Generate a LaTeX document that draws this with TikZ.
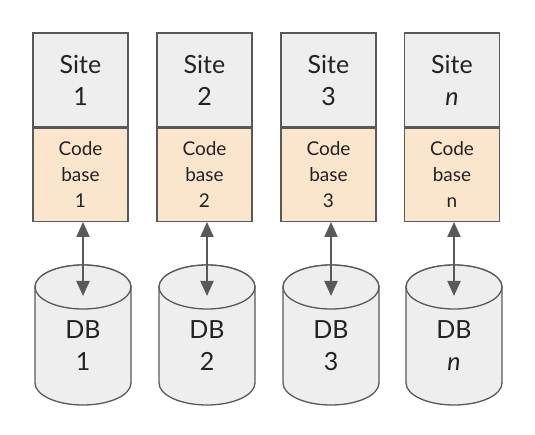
\documentclass[tikz,border=0pt]{standalone}
\usepackage{fontspec}
\setmainfont{Lato}
\usetikzlibrary{arrows.meta}
\definecolor{edge}{HTML}{595959}
\definecolor{sitefill}{HTML}{EEEEEE}
\definecolor{codefill}{HTML}{FCE5CD}
\definecolor{txt}{HTML}{222222}
\tikzset{
  sitebox/.style={draw=edge, line width=1.3pt, fill=sitefill, minimum width=95pt, minimum height=94pt, inner sep=0pt, align=center, text=txt, font=\fontsize{25pt}{32pt}\selectfont},
  codebox/.style={draw=edge, line width=1.3pt, fill=codefill, minimum width=95pt, minimum height=93pt, inner sep=0pt, align=center, text=txt, font=\fontsize{19pt}{26pt}\selectfont},
  dbtext/.style={inner sep=0pt, align=center, text=txt, font=\fontsize{25pt}{32pt}\selectfont},
  cyl/.style={draw=edge, line width=1.3pt, fill=sitefill},
  link/.style={draw=edge, line width=2pt, {Triangle[length=15pt,width=13pt]}-{Triangle[length=15pt,width=13pt]}}
}
\newcommand{\column}[5]{%
  % #1 name, #2 box center x, #3 cyl center x, #4 site label, #5 code label
  \node[sitebox] (site#1) at (#2,80) {Site\\#4};
  \node[codebox, anchor=north] (code#1) at (site#1.south) {Code\\base\\#5};
  \path[cyl] (#3-48,287) -- (#3-48,383) arc[start angle=180, end angle=0, x radius=48, y radius=22] -- (#3+48,287) arc[start angle=0, end angle=-180, x radius=48, y radius=22] -- cycle;
  \draw[cyl] (#3,287) ellipse[x radius=48, y radius=22];
  \coordinate (top#1) at (#3,296);
  \node[dbtext] (db#1) at (#3,346) {DB\\#4};
  \draw[link] (code#1.south -| top#1) -- (top#1);
}
\begin{document}
\begin{tikzpicture}[x=1pt,y=-1pt]
\useasboundingbox (0,0) rectangle (535,435);
\column{1}{80.5}{83}{1}{1}
\column{2}{204.5}{207}{2}{2}
\column{3}{328.5}{331}{3}{3}
\column{n}{452}{454}{\textit{n}}{n}
\end{tikzpicture}
\end{document}
